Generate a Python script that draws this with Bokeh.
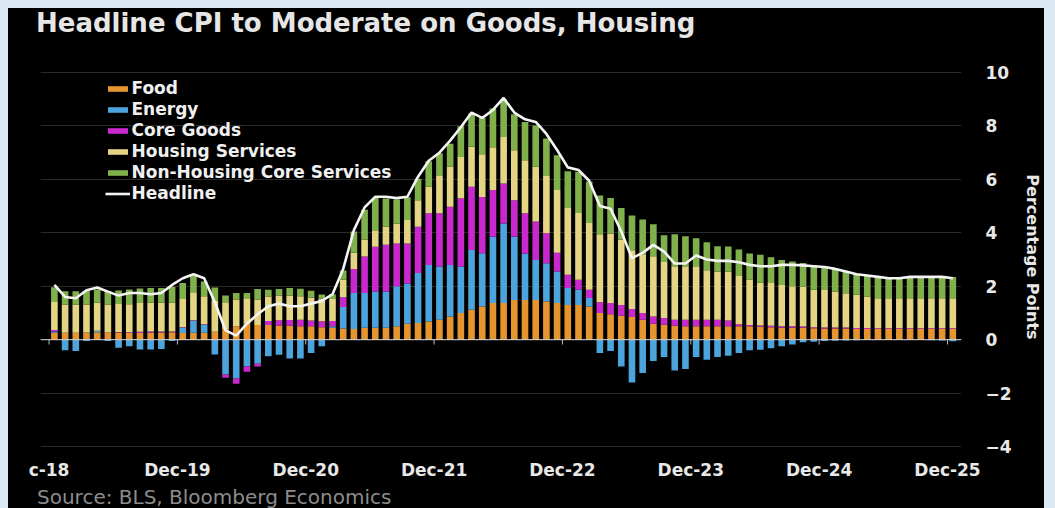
import numpy as np
from bokeh.plotting import figure
from bokeh.layouts import column
from bokeh.models import (ColumnDataSource, Range1d, FixedTicker, Legend, LegendItem,
                          Span, Div)
from bokeh.embed import file_html
from bokeh.resources import INLINE

# ---------------- data (monthly, Dec-2018 .. Dec-2025), percentage points ----------------
title_text = "Headline CPI to Moderate on Goods, Housing"
source_text = "Source: BLS, Bloomberg Economics"
tick_month_index = [0, 12, 24, 36, 48, 60, 72, 84]
tick_labels = ["c-18", "Dec-19", "Dec-20", "Dec-21", "Dec-22", "Dec-23", "Dec-24", "Dec-25"]

headline = [2.05, 1.6, 1.55, 1.85, 1.95, 1.8, 1.65, 1.75, 1.75, 1.7, 1.75, 2.05, 2.3, 2.45, 2.3,
            1.4, 0.35, 0.15, 0.6, 0.95, 1.25, 1.35, 1.25, 1.25, 1.35, 1.45, 1.7,
            2.65, 4.1, 4.95, 5.35, 5.35, 5.3, 5.35, 6.1, 6.7, 7.0, 7.45, 7.95, 8.5, 8.3, 8.6, 9.05,
            8.5, 8.25, 8.15, 7.7, 7.1, 6.45, 6.35, 5.95, 5.0, 4.9, 4.05, 3.05, 3.25, 3.55,
            3.3, 2.85, 2.85, 3.15, 3.0, 2.95, 2.95, 2.9, 2.8, 2.75, 2.75, 2.8, 2.8, 2.78, 2.75, 2.72,
            2.65, 2.55, 2.45, 2.4, 2.35, 2.3, 2.3, 2.35, 2.35, 2.35, 2.35, 2.3]

food = [0.26, 0.26, 0.26, 0.27, 0.28, 0.27, 0.27, 0.25, 0.25, 0.26, 0.27, 0.28, 0.25, 0.26, 0.26,
        0.3, 0.4, 0.5, 0.6, 0.55, 0.55, 0.53, 0.52, 0.5, 0.5, 0.47, 0.45,
        0.42, 0.4, 0.45, 0.45, 0.45, 0.5, 0.6, 0.62, 0.68, 0.75, 0.87, 1.0, 1.12, 1.24, 1.37, 1.37,
        1.49, 1.49, 1.49, 1.43, 1.37, 1.3, 1.3, 1.24, 1.0, 0.95, 0.9, 0.85, 0.75, 0.6,
        0.56, 0.52, 0.5, 0.5, 0.5, 0.5, 0.5, 0.5, 0.5, 0.48, 0.47, 0.45, 0.45, 0.45, 0.43, 0.42,
        0.42, 0.42, 0.4, 0.4, 0.4, 0.4, 0.4, 0.4, 0.4, 0.4, 0.4, 0.4]

energy = [0.05, -0.4, -0.42, -0.05, 0.05, -0.05, -0.3, -0.25, -0.37, -0.37, -0.35, -0.05, 0.2, 0.45, 0.3,
          -0.55, -1.3, -1.45, -1.0, -0.9, -0.62, -0.56, -0.7, -0.7, -0.5, -0.25, 0.05,
          0.8, 1.35, 1.3, 1.35, 1.35, 1.5, 1.5, 1.88, 2.12, 1.99, 1.93, 1.74, 2.24, 2.0, 2.48, 2.98,
          2.36, 1.74, 1.49, 1.43, 1.18, 0.63, 0.57, 0.32, -0.5, -0.42, -1.0, -1.6, -1.25, -0.8,
          -0.65, -1.15, -1.1, -0.65, -0.75, -0.65, -0.6, -0.5, -0.4, -0.38, -0.32, -0.25, -0.18, -0.1, -0.08, -0.05,
          -0.04, -0.03, -0.02, 0.0, 0.0, 0.0, 0.0, 0.0, 0.0, -0.02, -0.03, -0.06]

core_goods = [0.05, 0.0, 0.0, 0.0, 0.0, 0.0, 0.02, 0.03, 0.05, 0.05, 0.04, 0.03, 0.02, 0.02, 0.02,
              0.0, -0.12, -0.2, -0.2, -0.1, 0.15, 0.2, 0.22, 0.25, 0.22, 0.22, 0.2,
              0.37, 0.9, 1.36, 1.68, 1.75, 1.6, 1.5, 1.73, 1.93, 1.99, 2.18, 2.55, 2.36, 2.1, 1.75, 1.5,
              1.37, 1.5, 1.44, 1.12, 0.7, 0.5, 0.37, 0.31, 0.4, 0.42, 0.4, 0.3, 0.25, 0.27,
              0.25, 0.23, 0.25, 0.25, 0.25, 0.25, 0.22, 0.08, 0.05, 0.05, 0.05, 0.05, 0.05, 0.04, 0.04, 0.04,
              0.04, 0.04, 0.04, 0.04, 0.03, 0.03, 0.03, 0.03, 0.03, 0.03, 0.03, 0.03]

housing = [1.05, 1.05, 1.05, 1.05, 1.05, 1.05, 1.05, 1.05, 1.07, 1.07, 1.07, 1.07, 1.05, 1.05, 1.05,
           1.15, 1.0, 1.0, 0.95, 0.95, 0.92, 0.92, 0.9, 0.88, 0.86, 0.84, 0.82,
           0.65, 0.6, 0.63, 0.62, 0.68, 0.75, 0.88, 0.99, 1.0, 1.4, 1.5, 1.55, 1.5, 1.6, 1.6, 1.74,
           1.87, 1.99, 2.05, 2.15, 2.35, 2.5, 2.5, 2.5, 2.55, 2.6, 2.45, 2.2, 2.2, 2.25,
           2.1, 2.0, 2.0, 2.0, 1.85, 1.8, 1.82, 1.8, 1.7, 1.6, 1.6, 1.55, 1.5, 1.5, 1.4, 1.4,
           1.34, 1.28, 1.24, 1.18, 1.12, 1.12, 1.12, 1.12, 1.12, 1.12, 1.12, 1.12]

non_housing = [0.55, 0.5, 0.5, 0.5, 0.5, 0.5, 0.5, 0.55, 0.55, 0.55, 0.55, 0.6, 0.6, 0.6, 0.55,
               0.5, 0.25, 0.25, 0.2, 0.4, 0.25, 0.25, 0.29, 0.28, 0.25, 0.16, 0.18,
               0.35, 0.8, 1.12, 1.2, 1.05, 0.9, 0.85, 0.8, 0.95, 0.85, 0.85, 1.15, 1.25, 1.36, 1.45, 1.4,
               1.35, 1.43, 1.55, 1.4, 1.3, 1.37, 1.55, 1.55, 1.45, 1.33, 1.18, 1.3, 1.3, 1.2,
               1.0, 1.2, 1.12, 1.05, 1.05, 0.95, 0.95, 1.0, 0.98, 1.05, 0.97, 0.93, 0.93, 0.88, 0.92, 0.9,
               0.88, 0.83, 0.77, 0.76, 0.78, 0.72, 0.75, 0.8, 0.8, 0.8, 0.8, 0.8]

series_names = ["Food", "Energy", "Core Goods", "Housing Services", "Non-Housing Core Services"]
series_colors = ["#E5952F", "#4DA3DB", "#C828CC", "#E4D584", "#80B04C"]

# ---------------- figure ----------------
n = len(headline)
xc = np.arange(n) + 0.5          # bars centred mid-month; ticks at start of month
FONT = "DejaVu Sans"
W = 1036

p = figure(width=W, height=422,
           x_range=Range1d(-0.8, 85.31), y_range=Range1d(-4.26, 10.45),
           y_axis_location="right", output_backend="svg", toolbar_location=None,
           background_fill_color="black", border_fill_color="black",
           outline_line_color=None,
           min_border_left=32, min_border_right=74, min_border_top=0, min_border_bottom=27)

p.xgrid.grid_line_color = None
p.ygrid.grid_line_color = "#2a2a2a"
p.ygrid.grid_line_width = 1

pos_base = np.zeros(n)
neg_base = np.zeros(n)
legend_items = []
BAR_W = 0.62
for name, vals, color in zip(series_names, [food, energy, core_goods, housing, non_housing], series_colors):
    v = np.asarray(vals, dtype=float)
    pos = np.clip(v, 0, None)
    neg = np.clip(v, None, 0)
    sp = ColumnDataSource(dict(x=xc, bottom=pos_base.copy(), top=pos_base + pos))
    sn = ColumnDataSource(dict(x=xc, top=neg_base.copy(), bottom=neg_base + neg))
    rp = p.vbar(x="x", width=BAR_W, bottom="bottom", top="top", source=sp,
                fill_color=color, line_color=None)
    p.vbar(x="x", width=BAR_W, bottom="bottom", top="top", source=sn,
           fill_color=color, line_color=None)
    pos_base = pos_base + pos
    neg_base = neg_base + neg
    legend_items.append(LegendItem(label=name, renderers=[rp]))

p.add_layout(Span(location=0, dimension="width", line_color="#d8d8d8", line_width=1))

tick_pos = [float(m) for m in tick_month_index]
p.segment(x0=tick_pos, y0=[0] * len(tick_pos), x1=tick_pos, y1=[-0.18] * len(tick_pos),
          line_color="#bbbbbb", line_width=1)

rl = p.line(xc, headline, line_color="#F4F4F4", line_width=2.6)
legend_items.append(LegendItem(label="Headline", renderers=[rl]))

legend = Legend(items=legend_items, location=(64.5, 249.5),
                background_fill_alpha=0, border_line_color=None,
                padding=0, margin=0, spacing=0,
                glyph_width=25, glyph_height=7, label_height=21, label_standoff=2,
                label_text_color="#f0f0f0", label_text_font=FONT,
                label_text_font_style="bold", label_text_font_size="17px")
p.add_layout(legend)

# x axis
xa = p.xaxis[0]
xa.ticker = FixedTicker(ticks=tick_pos)
xa.major_label_overrides = {t: lab for t, lab in zip(tick_month_index, tick_labels)}
xa.axis_line_color = None
xa.major_tick_line_color = None
xa.minor_tick_line_color = None
xa.major_label_standoff = 0
xa.major_label_text_color = "#e8e8e8"
xa.major_label_text_font = FONT
xa.major_label_text_font_style = "bold"
xa.major_label_text_font_size = "17px"

# y axis (right)
ya = p.yaxis[0]
ya.ticker = FixedTicker(ticks=[-4, -2, 0, 2, 4, 6, 8, 10])
ya.axis_line_color = None
ya.major_tick_line_color = None
ya.minor_tick_line_color = None
ya.major_label_standoff = 18
ya.major_label_text_color = "#e8e8e8"
ya.major_label_text_font = FONT
ya.major_label_text_font_style = "bold"
ya.major_label_text_font_size = "17px"
ya.axis_label = "Percentage Points"
ya.axis_label_text_color = "#e8e8e8"
ya.axis_label_text_font = FONT
ya.axis_label_text_font_style = "bold"
ya.axis_label_text_font_size = "16px"
ya.axis_label_standoff = 8

# title (above) and source (below) as text blocks on the same black panel
title_div = Div(text=title_text, width=W, height=52, margin=0,
                styles={"background-color": "black", "color": "#e6e6e6",
                        "font-family": "'DejaVu Sans'", "font-weight": "bold",
                        "font-size": "26px", "line-height": "30px",
                        "padding": "0px 0px 0px 28px", "box-sizing": "border-box",
                        "white-space": "nowrap", "overflow": "hidden"})
source_div = Div(text=source_text, width=W, height=26, margin=0,
                 styles={"background-color": "black", "color": "#8c8c8c",
                         "font-family": "'DejaVu Sans'", "font-weight": "normal",
                         "font-size": "20px", "line-height": "20px",
                         "padding": "5px 0px 0px 29px", "box-sizing": "border-box",
                         "white-space": "nowrap", "overflow": "hidden"})

page = column(title_div, p, source_div, spacing=0,
              styles={"background-color": "black"})

html = file_html(page, INLINE, title=title_text)
page_style = ("<style>html, body { background-color: #dce8f4 !important; } "
              "body { margin: 0 !important; padding: 8px 0 0 8px !important; }</style>")
html = html.replace("</head>", page_style + "\n</head>", 1)
open("out.html", "w").write(html)
